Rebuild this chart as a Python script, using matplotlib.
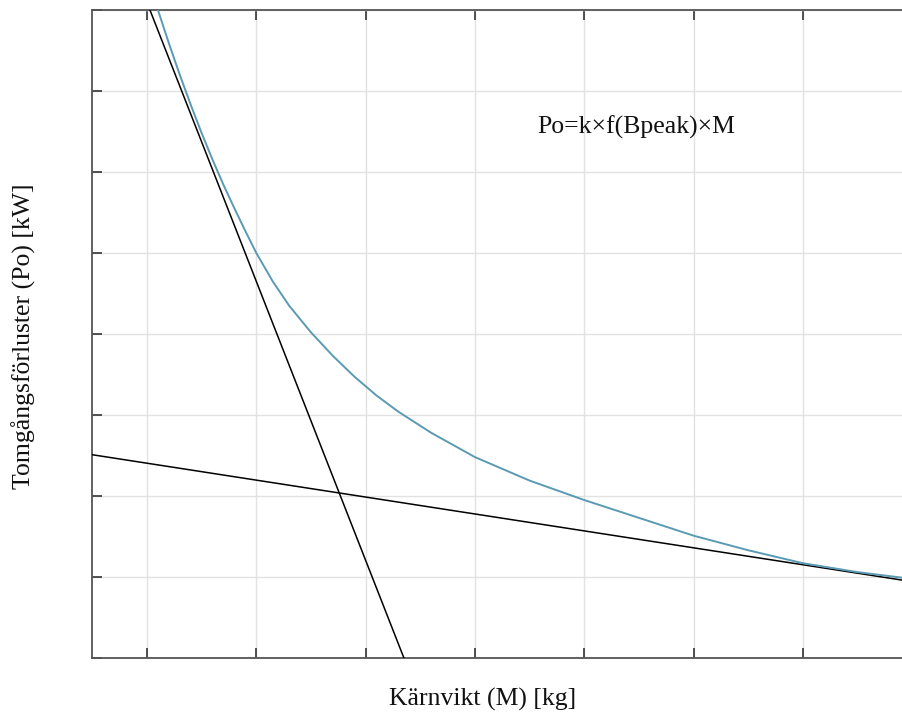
import matplotlib
matplotlib.use("Agg")
import matplotlib.pyplot as plt

# Core loss curve: no-load losses versus core mass
mass = [1.10, 1.20, 1.30, 1.40, 1.50, 1.60, 1.70, 1.80, 1.90, 2.00,
        2.15, 2.30, 2.50, 2.70, 2.90, 3.10, 3.30, 3.60, 4.00, 4.50,
        5.00, 5.50, 6.00, 6.50, 7.00, 7.50, 7.915]
loss = [8.00, 7.59, 7.20, 6.83, 6.48, 6.15, 5.84, 5.55, 5.27, 5.00,
        4.65, 4.35, 4.02, 3.73, 3.47, 3.24, 3.04, 2.78, 2.48, 2.19,
        1.95, 1.73, 1.51, 1.33, 1.17, 1.06, 0.99]

# Tangent lines (end points)
steep_x = [1.027, 3.35]
steep_y = [8.0, 0.0]
flat_x = [0.497, 7.915]
flat_y = [2.51, 0.96]

x_ticks = [1, 2, 3, 4, 5, 6, 7]
y_ticks = [0, 1, 2, 3, 4, 5, 6, 7, 8]

W, H = 903, 713
fig = plt.figure(figsize=(W / 100, H / 100), dpi=100)
ax = fig.add_axes([92 / W, (H - 658) / H, (W - 92) / W, (658 - 10) / H])

ax.set_xlim(0.497, 7.915)
ax.set_ylim(0, 8)
ax.set_xticks(x_ticks)
ax.set_yticks(y_ticks)
ax.set_xticklabels([])
ax.set_yticklabels([])
ax.grid(True, color="#e2e2e2", linewidth=1.0)
ax.set_axisbelow(True)

ax.tick_params(direction="in", length=7, width=1.2, color="#333333",
               top=True, right=False)

for side in ("left", "bottom", "top"):
    ax.spines[side].set_color("#555555")
    ax.spines[side].set_linewidth(1.3)
ax.spines["right"].set_visible(False)

ax.plot(steep_x, steep_y, color="black", linewidth=1.1, zorder=3)
ax.plot(flat_x, flat_y, color="black", linewidth=1.1, zorder=3)
ax.plot(mass, loss, color="#5a9ab2", linewidth=1.4, zorder=4,
        solid_joinstyle="round")

serif = ["Liberation Serif", "DejaVu Serif"]
fig.text(636 / W, 1 - 127 / H, "Po=k×f(Bpeak)×M", family=serif,
         fontsize=18.5, ha="center", va="center", color="#111111")
fig.text(483 / W, 1 - 699 / H, "Kärnvikt (M) [kg]", family=serif,
         fontsize=18.5, ha="center", va="center", color="#111111")
fig.text(24 / W, 1 - 336 / H, "Tomgångsförluster (Po) [kW]", family=serif,
         fontsize=18.5, ha="center", va="center", rotation=90, color="#111111")

fig.savefig("out.png", dpi=100, facecolor="white")
